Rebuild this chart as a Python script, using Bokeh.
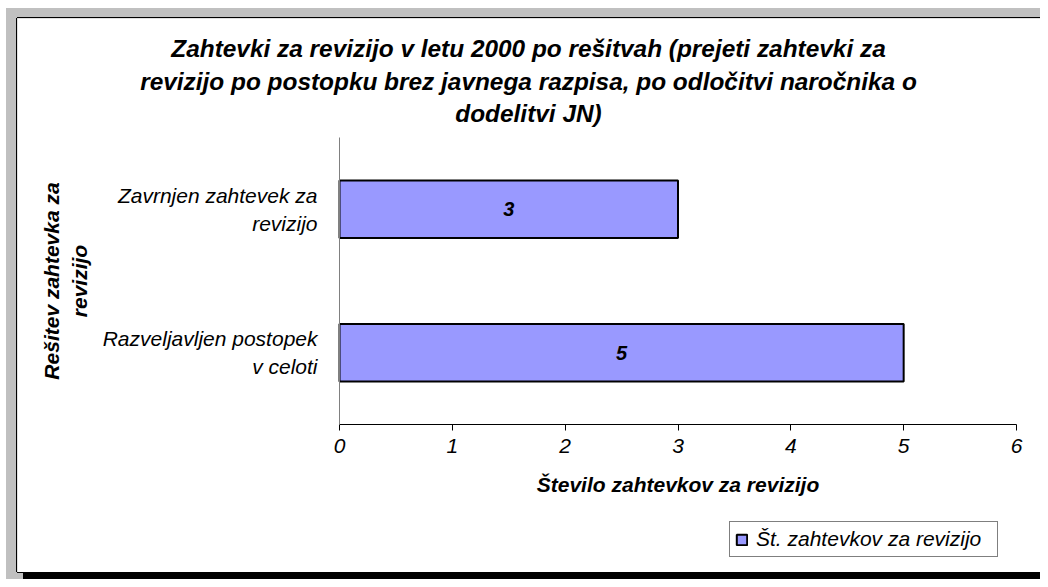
from bokeh.plotting import figure
from bokeh.layouts import column, row
from bokeh.models import (Range1d, FixedTicker, LinearAxis, Label, Legend, LegendItem,
                          ColumnDataSource, Spacer)
from bokeh.core.properties import value
from bokeh.embed import file_html
from bokeh.resources import INLINE

# ---- data ----
categories = ["Razveljavljen postopek\nv celoti", "Zavrnjen zahtevek za\nrevizijo"]  # bottom -> top
counts = [5, 3]
x_ticks = [0, 1, 2, 3, 4, 5, 6]
title_lines = [
    "Zahtevki za revizijo v letu 2000 po rešitvah (prejeti zahtevki za",
    "revizijo po postopku brez javnega razpisa, po odločitvi naročnika o",
    "dodelitvi JN)",
]
series_name = "Št. zahtevkov za revizijo"
x_title = "Število zahtevkov za revizijo"
y_title = "Rešitev zahtevka za\nrevizijo"

FONT = "Liberation Sans"
W, H = 1023, 554
# plot-area placement inside the white chart panel (pixels)
PL, PR, PT, PB = 322, 999, 119, 406
x_max = x_ticks[-1]
n_cat = len(categories)
ux = (PR - PL) / x_max
uy = (PB - PT) / n_cat

cat_pos = [i + 0.5 for i in range(n_cat)]

p = figure(
    width=W, height=H,
    x_range=Range1d(-PL / ux, x_max + (W - PR) / ux),
    y_range=Range1d(-(H - PB) / uy, n_cat + PT / uy),
    x_axis_location=None, y_axis_location=None,
    output_backend="svg", toolbar_location=None,
    min_border=0,
)
p.border_fill_color = "white"
p.background_fill_color = "white"
p.outline_line_color = None
p.grid.visible = False
p.styles = {"box-shadow": "0 -1px 0 0 #000000, -1px 0 0 0 #000000, 0 1px 0 0 #000000, 3px 10px 0 -3px #000000"}

src = ColumnDataSource(dict(y=cat_pos, right=counts, mid=[c / 2 for c in counts],
                            txt=[str(c) for c in counts]))
bars = p.hbar(y="y", left=0, right="right", height=0.4, source=src,
              fill_color="#9999FF", line_color="black", line_width=2)
p.text(x="mid", y="y", text="txt", source=src, text_align="center", text_baseline="middle",
       text_font=value(FONT), text_font_size="20px", text_font_style="bold italic", text_color="black")

# x axis (value axis)
xa = LinearAxis(fixed_location=0, bounds=(0, x_max), ticker=FixedTicker(ticks=x_ticks))
xa.axis_line_color = "black"
xa.major_tick_line_color = "black"
xa.major_tick_out = 6
xa.major_tick_in = 0
xa.minor_tick_line_color = None
xa.major_label_text_font = FONT
xa.major_label_text_font_size = "21px"
xa.major_label_text_font_style = "italic"
xa.major_label_text_color = "black"
xa.major_label_standoff = 8
xa.axis_label = x_title
xa.axis_label_text_font = FONT
xa.axis_label_text_font_size = "21px"
xa.axis_label_text_font_style = "bold italic"
xa.axis_label_text_color = "black"
xa.axis_label_standoff = 17
p.add_layout(xa, "below")

# y axis (category axis)
ya = LinearAxis(fixed_location=0, bounds=(0, n_cat), ticker=FixedTicker(ticks=cat_pos),
                major_label_overrides={pos: cat for pos, cat in zip(cat_pos, categories)})
ya.axis_line_color = "#808080"
ya.major_tick_line_color = None
ya.minor_tick_line_color = None
ya.major_label_text_font = FONT
ya.major_label_text_font_size = "21px"
ya.major_label_text_font_style = "italic"
ya.major_label_text_color = "black"
ya.major_label_text_align = "center"
ya.major_label_standoff = 16
ya.axis_label = y_title
ya.axis_label_text_font = FONT
ya.axis_label_text_font_size = "21px"
ya.axis_label_text_font_style = "bold italic"
ya.axis_label_text_color = "black"
ya.axis_label_standoff = 9
p.add_layout(ya, "left")

# title lines
for i, line in enumerate(title_lines):
    p.add_layout(Label(x=511, y=H - (30 + 32.5 * i), x_units="screen", y_units="screen", text=line,
                       text_align="center", text_baseline="middle",
                       text_font=FONT, text_font_size="24.4px", text_font_style="bold italic",
                       text_color="black"))

# legend
legend = Legend(items=[LegendItem(label=series_name, renderers=[bars])], location=(712, 15))
legend.border_line_color = "black"
legend.border_line_width = 1
legend.background_fill_color = "white"
legend.background_fill_alpha = 1
legend.label_text_font = FONT
legend.label_text_font_size = "21px"
legend.label_text_font_style = "italic"
legend.label_text_color = "black"
legend.glyph_width = 13
legend.glyph_height = 13
legend.label_standoff = 8
legend.label_width = 236
legend.padding = 5
legend.margin = 0
legend.spacing = 0
p.add_layout(legend)

gray_area = column(
    Spacer(width=1034, height=10),
    row(Spacer(width=11, height=H), p),
    Spacer(width=1034, height=7),
    styles={"background-color": "#C0C0C0"},
)
root = column(
    Spacer(width=1040, height=8),
    row(Spacer(width=6, height=571), gray_area),
)

open("out.html", "w").write(file_html(root, INLINE))
